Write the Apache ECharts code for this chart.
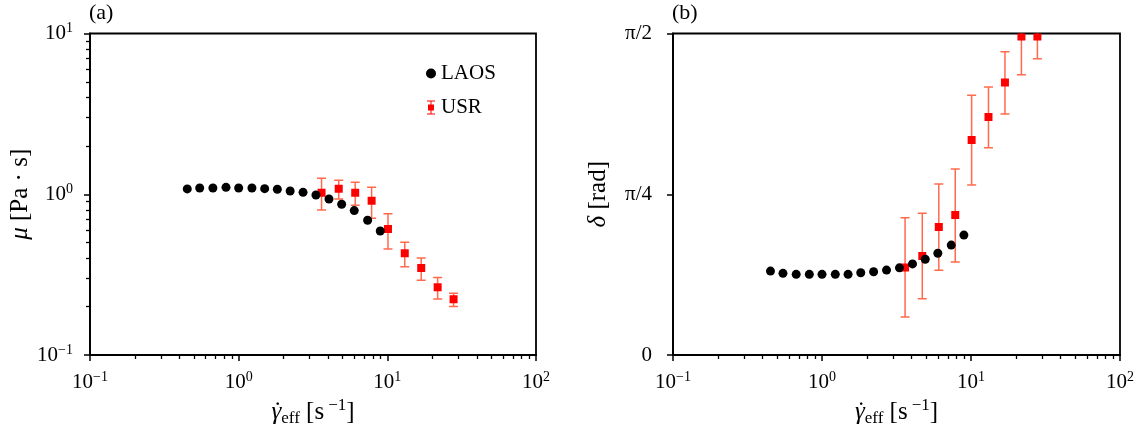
<!DOCTYPE html>
<html>
<head>
<meta charset="utf-8">
<script src="https://cdn.jsdelivr.net/npm/echarts@6/dist/echarts.min.js"></script>
<style>
  html, body { margin: 0; padding: 0; background: #ffffff; }
  #chart { width: 1143px; height: 435px; }
</style>
</head>
<body>
<div id="chart"></div>
<script>
// Effective shear rate for the LAOS sweep [1/s]
const gammaLAOS = [0.451, 0.547, 0.671, 0.822, 1.0, 1.228, 1.496, 1.82, 2.22, 2.71, 3.31, 4.05, 4.93, 5.99, 7.37, 8.96];
// Viscosity from LAOS [Pa·s]
const muLAOS = [1.080, 1.094, 1.094, 1.104, 1.094, 1.094, 1.083, 1.074, 1.048, 1.028, 0.989, 0.934, 0.866, 0.791, 0.689, 0.591];
// Phase angle from LAOS [rad]
const deltaLAOS = [0.410, 0.399, 0.394, 0.394, 0.394, 0.394, 0.394, 0.402, 0.407, 0.415, 0.426, 0.445, 0.468, 0.497, 0.537, 0.586];

// Effective shear rate for the USR tests [1/s]
const gammaUSR = [3.61, 4.71, 6.08, 7.84, 10.1, 13.1, 16.9, 21.8, 27.9];
// Viscosity from USR with error band limits [Pa·s]
const muUSR = [1.022, 1.083, 1.022, 0.912, 0.608, 0.430, 0.348, 0.264, 0.222];
const muUSRLow = [0.798, 0.934, 0.853, 0.708, 0.456, 0.354, 0.292, 0.223, 0.200];
const muUSRHigh = [1.256, 1.222, 1.186, 1.104, 0.757, 0.503, 0.401, 0.303, 0.242];
// Phase angle from USR with error band limits [rad]
const deltaUSR = [0.428, 0.484, 0.625, 0.684, 1.050, 1.163, 1.332, 1.556, 1.556];
const deltaUSRLow = [0.186, 0.275, 0.414, 0.454, 0.830, 1.013, 1.177, 1.369, 1.447];
const deltaUSRHigh = [0.671, 0.692, 0.835, 0.909, 1.269, 1.309, 1.482, 1.745, 1.665];

// Tick positions
const logMajorTicks = [0.1, 1, 10, 100];
const xMinorTicks = [0.2, 0.3, 0.4, 0.5, 0.6, 0.7, 0.8, 0.9, 2, 3, 4, 5, 6, 7, 8, 9, 20, 30, 40, 50, 60, 70, 80, 90];
const muMajorTicks = [0.1, 1, 10];
const muMinorTicks = [0.2, 0.3, 0.4, 0.5, 0.6, 0.7, 0.8, 0.9, 2, 3, 4, 5, 6, 7, 8, 9];
const deltaTicks = [0, Math.PI / 4, Math.PI / 2];
const deltaTickLabels = ['0', 'π/4', 'π/2'];

const FONT = '"Liberation Serif", "DejaVu Serif", serif';
const ERR_COLOR = '#ff6a4d';
const SQ_COLOR = '#ff0000';
const AX_W = 1.8;
const NAME_SIZE = 25;

const chart = echarts.init(document.getElementById('chart'));

function powLabel(v) {
  const e = Math.round(Math.log10(v));
  return '{b|10}{s|' + (e < 0 ? '\u2212' + (-e) : String(e)) + '}';
}
const powRich = {
  b: { fontFamily: FONT, fontSize: 21, color: '#000', lineHeight: 24 },
  s: { fontFamily: FONT, fontSize: 14, color: '#000', lineHeight: 14, verticalAlign: 'top' }
};
const nameRich = {
  dot: { fontFamily: FONT, fontSize: NAME_SIZE, color: '#000', lineHeight: 30, width: 0.01, padding: [0, 0, 0, 0] },
  it: { fontFamily: FONT, fontSize: NAME_SIZE, fontStyle: 'italic', color: '#000', lineHeight: 30 },
  r: { fontFamily: FONT, fontSize: NAME_SIZE, color: '#000', lineHeight: 30 },
  sub: { fontFamily: FONT, fontSize: 17, color: '#000', lineHeight: 17, verticalAlign: 'bottom' },
  sup: { fontFamily: FONT, fontSize: 17, color: '#000', lineHeight: 17, verticalAlign: 'top', padding: [0, 0, 0, 4] }
};
// shear-rate symbol: dot accent placed over an italic gamma
const xName = '{dot|  \u02d9}{it|\u03b3}{sub|eff}{r| [s}{sup|\u22121}{r|]}';

function majorLogX(gridIndex) {
  return {
    type: 'log', logBase: 10, gridIndex, min: 0.1, max: 100, position: 'bottom',
    name: xName, nameLocation: 'middle', nameGap: 37,
    nameTextStyle: { rich: nameRich },
    axisLine: { show: true, onZero: false, lineStyle: { color: '#000', width: AX_W } },
    axisTick: { show: true, inside: false, length: 6, customValues: logMajorTicks, lineStyle: { color: '#000', width: 1.5 } },
    axisLabel: { show: true, margin: 15, customValues: logMajorTicks, formatter: powLabel, rich: powRich },
    splitLine: { show: false }, minorTick: { show: false }
  };
}
function minorLogX(gridIndex) {
  return {
    type: 'log', logBase: 10, gridIndex, min: 0.1, max: 100, position: 'bottom',
    axisLine: { show: false },
    axisTick: { show: true, inside: false, length: 4, customValues: xMinorTicks, lineStyle: { color: '#000', width: 1.3 } },
    axisLabel: { show: false }, splitLine: { show: false }
  };
}

// Error bar plus square marker, clipped to the plotting area
function renderUSR(params, api) {
  const x = api.value(0);
  const c = api.coord([x, api.value(1)]);
  const lo = api.coord([x, api.value(2)]);
  const hi = api.coord([x, api.value(3)]);
  const cap = 4.5, half = 4;
  const ls = { stroke: ERR_COLOR, lineWidth: 1.5 };
  return {
    type: 'group',
    children: [
      { type: 'line', shape: { x1: c[0], y1: lo[1], x2: c[0], y2: hi[1] }, style: ls },
      { type: 'line', shape: { x1: c[0] - cap, y1: lo[1], x2: c[0] + cap, y2: lo[1] }, style: ls },
      { type: 'line', shape: { x1: c[0] - cap, y1: hi[1], x2: c[0] + cap, y2: hi[1] }, style: ls },
      { type: 'rect', shape: { x: c[0] - half, y: c[1] - half, width: 2 * half, height: 2 * half }, style: { fill: SQ_COLOR } }
    ]
  };
}

const usrIcon = 'path://M1 0H9V1H5.5V4H8V10H5.5V13H9V14H1V13H4.5V10H2V4H4.5V1H1Z';

chart.setOption({
  animation: false,
  backgroundColor: '#ffffff',
  textStyle: { fontFamily: FONT },
  grid: [
    { left: 90, top: 33.5, width: 446, height: 321.5, show: true, borderColor: '#000', borderWidth: AX_W, backgroundColor: 'transparent' },
    { left: 673, top: 33.5, width: 447, height: 321.5, show: true, borderColor: '#000', borderWidth: AX_W, backgroundColor: 'transparent' }
  ],
  graphic: [
    { type: 'text', left: 89, top: 2, style: { text: '(a)', font: '22px ' + FONT, fill: '#000' } },
    { type: 'text', left: 672, top: 2, style: { text: '(b)', font: '22px ' + FONT, fill: '#000' } }
  ],
  legend: {
    left: 421, top: 57, orient: 'vertical', itemGap: 11, itemWidth: 10, itemHeight: 14, itemTextGap: 18,
    textStyle: { fontFamily: FONT, fontSize: 21, color: '#000', lineHeight: 23 },
    data: [
      { name: 'LAOS', icon: 'circle', itemStyle: { color: '#000', opacity: 1 } },
      { name: 'USR', icon: usrIcon, itemStyle: { color: SQ_COLOR, opacity: 1 } }
    ],
    selectedMode: false
  },
  xAxis: [majorLogX(0), minorLogX(0), majorLogX(1), minorLogX(1)],
  yAxis: [
    {
      type: 'log', logBase: 10, gridIndex: 0, min: 0.1, max: 10, position: 'left',
      name: '{it|\u03bc}{r| [Pa \u00b7 s]}', nameLocation: 'middle', nameGap: 52,
      nameTextStyle: { rich: nameRich },
      axisLine: { show: true, onZero: false, lineStyle: { color: '#000', width: AX_W } },
      axisTick: { show: true, inside: false, length: 6, customValues: muMajorTicks, lineStyle: { color: '#000', width: 1.5 } },
      axisLabel: { show: true, margin: 17, customValues: muMajorTicks, formatter: powLabel, rich: powRich },
      splitLine: { show: false }
    },
    {
      type: 'log', logBase: 10, gridIndex: 0, min: 0.1, max: 10, position: 'left',
      axisLine: { show: false },
      axisTick: { show: true, inside: false, length: 4, customValues: muMinorTicks, lineStyle: { color: '#000', width: 1.3 } },
      axisLabel: { show: false }, splitLine: { show: false }
    },
    {
      type: 'value', gridIndex: 1, min: 0, max: Math.PI / 2, interval: Math.PI / 4, position: 'left',
      name: '{it|\u03b4}{r| [rad]}', nameLocation: 'middle', nameGap: 60,
      nameTextStyle: { rich: nameRich },
      axisLine: { show: true, onZero: false, lineStyle: { color: '#000', width: AX_W } },
      axisTick: { show: true, inside: false, length: 6, customValues: deltaTicks, lineStyle: { color: '#000', width: 1.5 } },
      axisLabel: {
        show: true, margin: 21, customValues: deltaTicks,
        fontFamily: FONT, fontSize: 21, color: '#000',
        formatter: function (v) {
          let k = 0;
          deltaTicks.forEach(function (t, j) { if (Math.abs(t - v) < 1e-6) k = j; });
          return deltaTickLabels[k];
        }
      },
      splitLine: { show: false }
    }
  ],
  series: [
    {
      name: 'LAOS', type: 'scatter', xAxisIndex: 0, yAxisIndex: 0,
      symbol: 'circle', symbolSize: 9, itemStyle: { color: '#000', opacity: 1 },
      data: gammaLAOS.map(function (g, i) { return [g, muLAOS[i]]; })
    },
    {
      name: 'USR', type: 'custom', xAxisIndex: 0, yAxisIndex: 0, clip: true,
      renderItem: renderUSR, encode: { x: 0, y: 1 }, itemStyle: { color: SQ_COLOR },
      data: gammaUSR.map(function (g, i) { return [g, muUSR[i], muUSRLow[i], muUSRHigh[i]]; })
    },
    {
      name: 'LAOS', type: 'scatter', xAxisIndex: 2, yAxisIndex: 2,
      symbol: 'circle', symbolSize: 9, itemStyle: { color: '#000', opacity: 1 },
      data: gammaLAOS.map(function (g, i) { return [g, deltaLAOS[i]]; })
    },
    {
      name: 'USR', type: 'custom', xAxisIndex: 2, yAxisIndex: 2, clip: true,
      renderItem: renderUSR, encode: { x: 0, y: 1 }, itemStyle: { color: SQ_COLOR },
      data: gammaUSR.map(function (g, i) { return [g, deltaUSR[i], deltaUSRLow[i], deltaUSRHigh[i]]; })
    }
  ]
});
</script>
</body>
</html>
